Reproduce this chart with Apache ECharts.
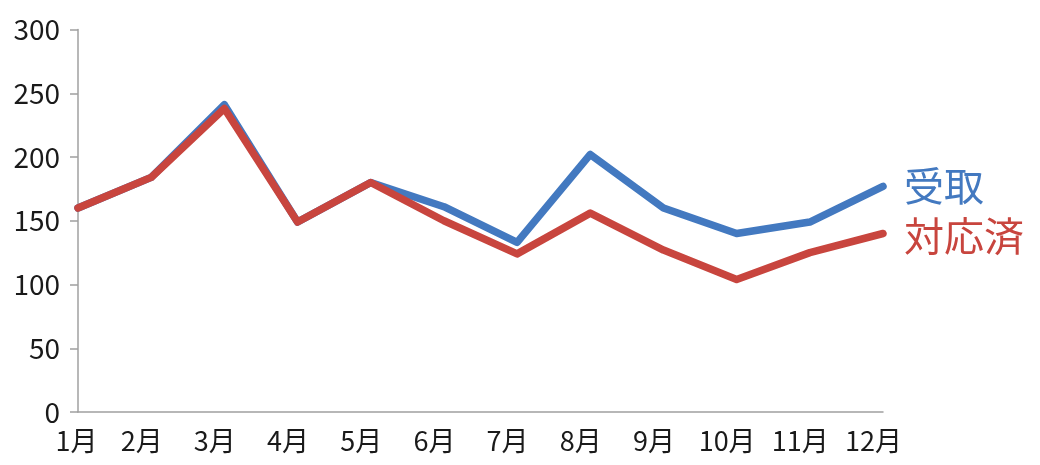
<!DOCTYPE html>
<html><head><meta charset="utf-8">
<script src="https://cdn.jsdelivr.net/npm/echarts@6/dist/echarts.min.js"></script>
<style>html,body{margin:0;padding:0;background:#fff}#c{width:1040px;height:465px}</style>
</head><body><div id="c"></div>
<script>
const months = ['1月','2月','3月','4月','5月','6月','7月','8月','9月','10月','11月','12月'];
const received = [160, 184, 241, 149, 180, 161, 133, 202, 160, 140, 149, 177];
const handled  = [160, 184, 238, 149, 180, 150, 124, 156, 127, 104, 125, 140];
const seriesNames = ['受取', '対応済'];
const yTicks = { min: 0, max: 300, interval: 50 };

const font = '"Noto Sans CJK JP", "Noto Sans", sans-serif';
const chart = echarts.init(document.getElementById('c'));
function lineSeries(name, data, color, dy) {
  return {
    name, type: 'line', data, symbol: 'none', smooth: false,
    lineStyle: { color, width: 7.5, cap: 'round', join: 'round' },
    itemStyle: { color },
    endLabel: { show: true, formatter: '{a}', color, fontSize: 40, fontFamily: font, distance: 21, offset: [0, dy] },
    animation: false
  };
}
const xl = { color: '#1a1a1a', fontSize: 27, fontFamily: font };
chart.setOption({
  animation: false,
  grid: { left: 78, right: 157, top: 29.5, bottom: 53, containLabel: false },
  xAxis: {
    type: 'category', data: months, boundaryGap: false,
    axisLine: { lineStyle: { color: '#a0a0a0', width: 1.5 } },
    axisTick: { show: false },
    axisLabel: {
      color: '#1a1a1a', fontSize: 27, fontFamily: font, margin: 15, interval: 0,
      formatter: (v, i) => (i === 0 ? '{f|' + v + '}' : '{o|' + v + '}'),
      rich: {
        f: Object.assign({ padding: [0, 3, 0, 0] }, xl),
        o: Object.assign({ padding: [0, 19, 0, 0] }, xl)
      }
    }
  },
  yAxis: {
    type: 'value', min: yTicks.min, max: yTicks.max, interval: yTicks.interval,
    axisLine: { show: true, lineStyle: { color: '#a0a0a0', width: 1.5 } },
    axisTick: { show: true, length: 8, lineStyle: { color: '#a0a0a0', width: 1.5 } },
    axisLabel: { color: '#1a1a1a', fontSize: 28, fontFamily: font, margin: 18 },
    splitLine: { show: false }
  },
  series: [
    lineSeries(seriesNames[0], received, '#4379c0', -1),
    lineSeries(seriesNames[1], handled, '#c8453e', 2)
  ]
});
</script></body></html>
